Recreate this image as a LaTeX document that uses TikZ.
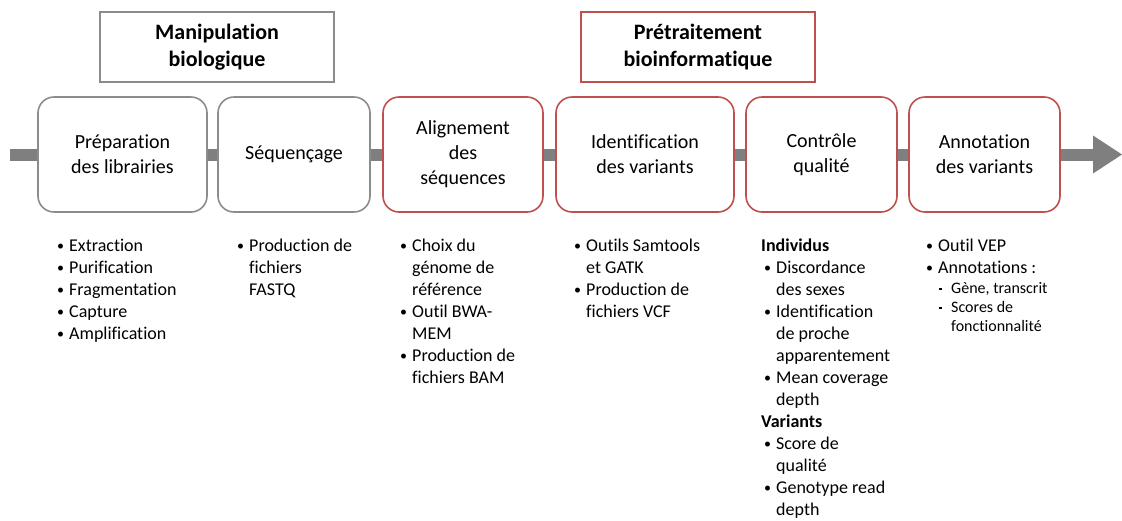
\documentclass[tikz,border=0pt]{standalone}
\usepackage{fontspec}
\setmainfont[Ligatures=NoCommon]{Carlito}
\usetikzlibrary{arrows.meta}
\definecolor{bargray}{HTML}{7F7F7F}
\definecolor{boxgray}{HTML}{8C8C8C}
\definecolor{boxred}{HTML}{C0504D}
\newcommand{\bl}[1]{\makebox[12pt][l]{\raisebox{1pt}{\fontsize{14}{14}\selectfont •}}#1}
\newcommand{\ct}[1]{\hspace*{12pt}#1}
\newcommand{\sbl}[1]{\makebox[13pt][l]{\hspace*{1pt}\rule[4pt]{2.5pt}{1.8pt}}#1}
\begin{document}
\begin{tikzpicture}[x=1pt,y=-1pt,
  stage/.style={draw=boxgray, line width=1.6pt, rounded corners=16pt, fill=white,
    minimum width=#1pt, minimum height=115pt, align=center, inner sep=0pt,
    font=\fontsize{20}{25}\selectfont},
  redstage/.style={stage=#1, draw=boxred},
  header/.style={line width=1.6pt, fill=white, minimum width=234pt, minimum height=70pt,
    align=center, inner sep=0pt, font=\fontsize{22}{27}\selectfont\bfseries},
  list/.style={anchor=north west, align=left, inner sep=0pt,
    font=\fontsize{18}{22}\selectfont},
  sublist/.style={anchor=north west, align=left, inner sep=0pt,
    font=\fontsize{16}{19}\selectfont},
  bar/.style={draw=bargray, line width=12pt}]
\useasboundingbox (0,0) rectangle (1122,520);

% headers
\node[header, draw=boxgray] (h1) at (217,47) {Manipulation\\biologique};
\node[header, draw=boxred] (h2) at (698,47) {Prétraitement\\bioinformatique};

% stages
\node[stage=169] (b1) at (122.5,154.5) {Préparation\\des librairies};
\node[stage=152] (b2) at (294,154.5) {Séquençage};
\node[redstage=160] (b3) at (463,154.5) {Alignement\\des\\séquences};
\node[redstage=178] (b4) at (645,154.5) {Identification\\des variants};
\node[redstage=151] (b5) at (821.5,154.5) {Contrôle\\qualité};
\node[redstage=151] (b6) at (984.5,154.5) {Annotation\\des variants};

% arrow bar
\coordinate (s) at (10,154.5);
\coordinate (e) at (1122,154.5);
\draw[bar] (s) -- (b1);
\draw[bar] (b1) -- (b2);
\draw[bar] (b2) -- (b3);
\draw[bar] (b3) -- (b4);
\draw[bar] (b4) -- (b5);
\draw[bar] (b5) -- (b6);
\draw[bar, -{Triangle[length=29pt, width=38pt, line width=0pt]}] (b6) -- (e);

% lists
\node[list] (l1) at (57,235.5) {\strut\bl{Extraction}\\\bl{Purification}\\\bl{Fragmentation}\\\bl{Capture}\\\bl{Amplification}};
\node[list] (l2) at (237,235.5) {\strut\bl{Production de}\\\ct{fichiers}\\\ct{FASTQ}};
\node[list] (l3) at (400,235.5) {\strut\bl{Choix du}\\\ct{génome de}\\\ct{référence}\\\bl{Outil BWA-}\\\ct{MEM}\\\bl{Production de}\\\ct{fichiers BAM}};
\node[list] (l4) at (574,235.5) {\strut\bl{Outils Samtools}\\\ct{et GATK}\\\bl{Production de}\\\ct{fichiers VCF}};
\node[list] (l5) at (761,235.5) {\strut\textbf{Individus}\\
  \hspace*{3pt}\bl{Discordance}\\\hspace*{3pt}\ct{des sexes}\\
  \hspace*{3pt}\bl{Identification}\\\hspace*{3pt}\ct{de proche}\\\hspace*{3pt}\ct{apparentement}\\
  \hspace*{3pt}\bl{Mean coverage}\\\hspace*{3pt}\ct{depth}\\
  \textbf{Variants}\\
  \hspace*{3pt}\bl{Score de}\\\hspace*{3pt}\ct{qualité}\\
  \hspace*{3pt}\bl{Genotype read}\\\hspace*{3pt}\ct{depth}};
\node[list] (l6) at (926,235.5) {\strut\bl{Outil VEP}\\\bl{Annotations :}};
\node[sublist] (l6s) at (938,280) {\strut\sbl{Gène, transcrit}\\\sbl{Scores de}\\\hspace*{13pt}fonctionnalité};
\end{tikzpicture}
\end{document}
